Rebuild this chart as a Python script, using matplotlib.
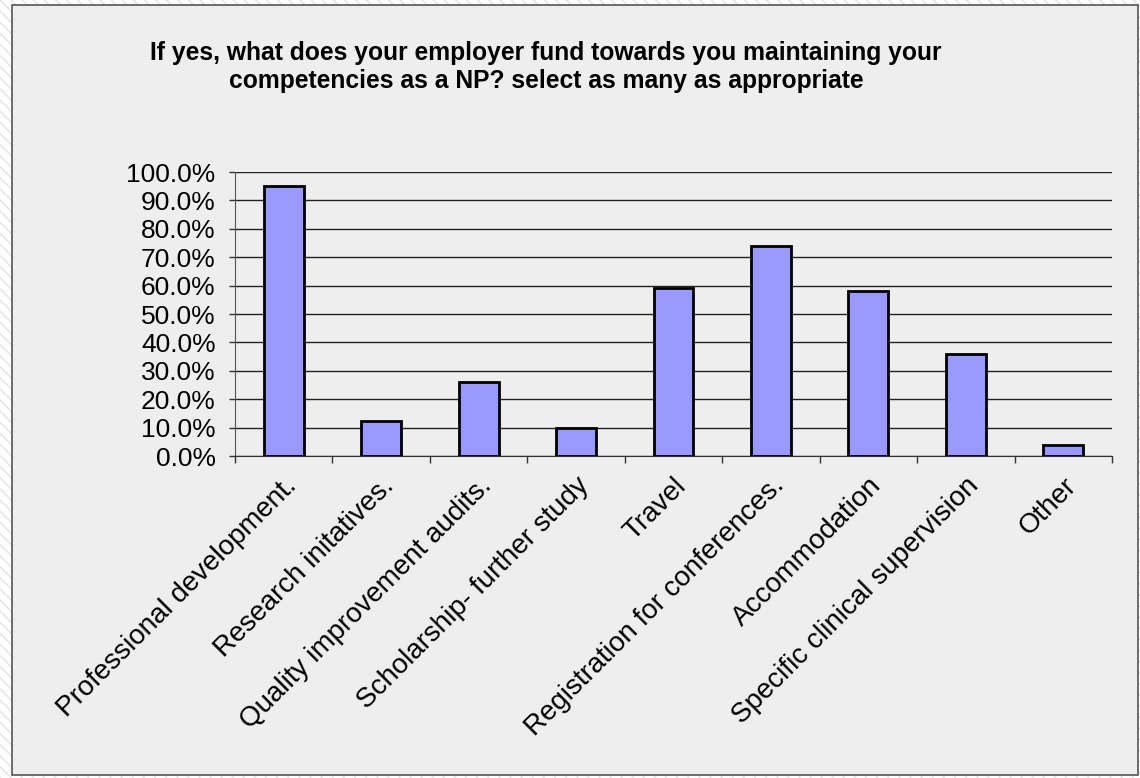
import matplotlib
matplotlib.use("Agg")
import matplotlib.pyplot as plt
from matplotlib.patches import Rectangle
from matplotlib.ticker import FuncFormatter, MultipleLocator
import numpy as np

categories = [
    "Professional development.",
    "Research initatives.",
    "Quality improvement audits.",
    "Scholarship- further study",
    "Travel",
    "Registration for conferences.",
    "Accommodation",
    "Specific clinical supervision",
    "Other",
]
values = [95.1, 12.3, 26.1, 9.9, 59.3, 73.9, 58.0, 36.0, 4.0]

title = ("If yes, what does your employer fund towards you maintaining your\n"
         "competencies as a NP? select as many as appropriate")

plt.rcParams["font.family"] = ["Liberation Sans", "DejaVu Sans"]

fig = plt.figure(figsize=(11.4, 7.78), dpi=100)
fig.patch.set_facecolor("white")

# hatched outer background and the grey chart area
fig.patches.append(Rectangle((0, 0), 1, 1, transform=fig.transFigure,
                             facecolor="white", edgecolor="#e2e2e2",
                             hatch="\\\\\\", linewidth=0, zorder=-3))
fig.patches.append(Rectangle((12 / 1140, 3 / 778), 1126 / 1140, 770 / 778,
                             transform=fig.transFigure, facecolor="#eeeeee",
                             edgecolor="#555555", linewidth=1.2, zorder=-2))

ax = fig.add_axes([235 / 1140, 1 - 456 / 778, 877 / 1140, 284 / 778])
ax.set_facecolor("none")

x = np.arange(len(categories))
ax.bar(x, values, width=0.41, color="#9999ff", edgecolor="black",
       linewidth=2, zorder=3)

ax.set_xlim(-0.5, len(categories) - 0.5)
ax.set_ylim(0, 100)
ax.yaxis.set_major_locator(MultipleLocator(10))
ax.yaxis.set_major_formatter(FuncFormatter(lambda v, p: "%.1f%%" % v))
ax.grid(axis="y", color="#222222", linewidth=1, zorder=0)

ax.set_xticks(x)
ax.set_xticklabels(categories, rotation=45, ha="right", rotation_mode="anchor",
                   fontsize=20)
ax.set_xticks(np.arange(len(categories) + 1) - 0.5, minor=True)
ax.tick_params(axis="x", which="major", length=0, pad=12)
ax.tick_params(axis="x", which="minor", length=5, width=1, color="#333333")
ax.tick_params(axis="y", length=4, width=1, color="#333333", labelsize=19, pad=10)

for s in ["top", "right"]:
    ax.spines[s].set_visible(False)
ax.spines["left"].set_color("#555555")
ax.spines["bottom"].set_color("#333333")

fig.text(546 / 1140, 1 - 67 / 778, title, ha="center", va="center",
         fontsize=17.7, fontweight="bold", linespacing=1.2)

fig.savefig("out.png", dpi=100, facecolor=fig.get_facecolor())
